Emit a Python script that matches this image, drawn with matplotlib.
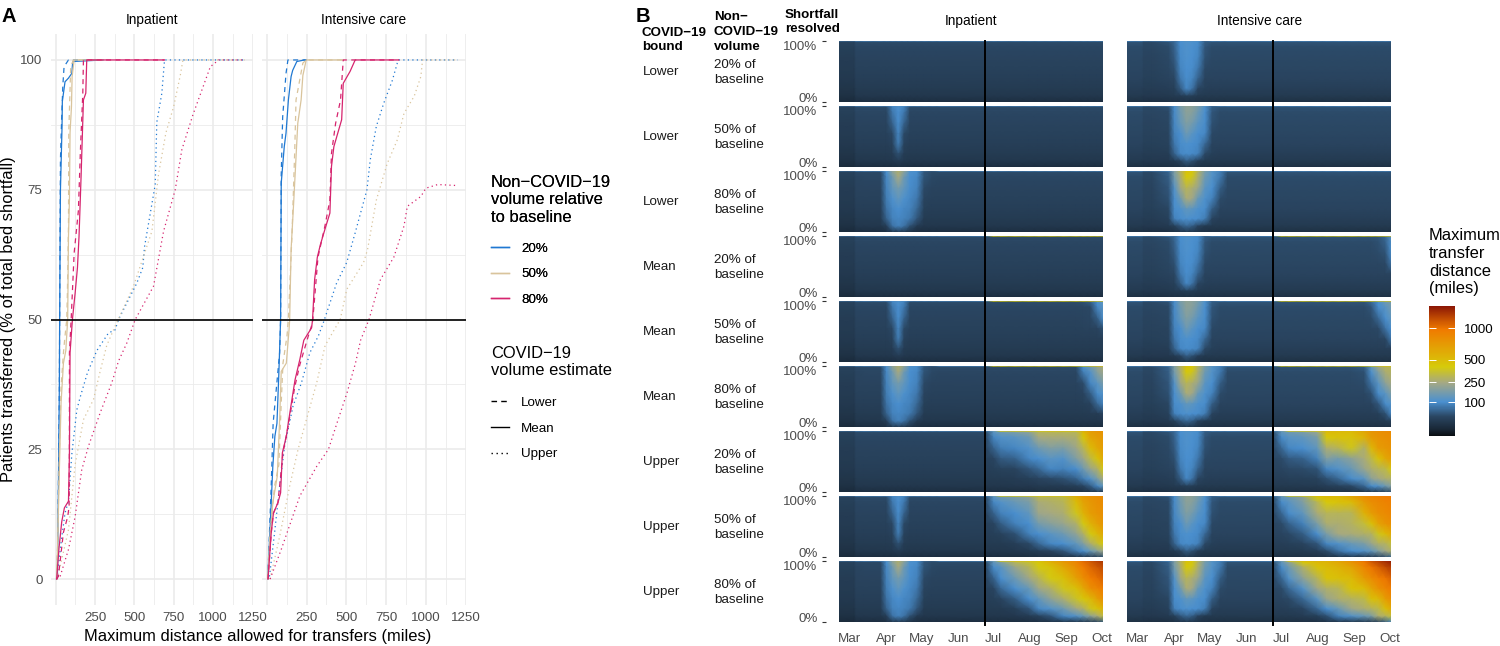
import matplotlib
matplotlib.use("Agg")
import matplotlib.pyplot as plt
import numpy as np
from matplotlib.colors import LinearSegmentedColormap, PowerNorm
from matplotlib.lines import Line2D

plt.rcParams['font.family'] = ['Liberation Sans', 'DejaVu Sans']

W, H = 1500, 646

# panel A, miles against percent transferred
inp_blue_lower_x = [5, 10, 17, 23, 25, 30, 36, 45, 53, 81, 300]
inp_blue_lower_y = [0, 1, 18, 37, 50, 80.8, 87, 95, 98.7, 100, 100]
inp_blue_mean_x = [5, 11, 17, 23, 25, 30, 40, 42, 59, 81, 102, 108, 300]
inp_blue_mean_y = [0, 1, 18, 37, 50, 75, 87, 92, 95.8, 96.5, 97.4, 99.7, 100]
inp_blue_upper_x = [5, 11, 38, 59, 81, 102, 134, 155, 201, 261, 335, 377, 399, 515, 553, 564, 632, 642, 674, 691, 1200]
inp_blue_upper_y = [0, 1, 8, 12.7, 15, 24, 32.6, 35, 39.7, 44, 47.4, 48, 50, 57, 60, 64, 76, 88, 93.6, 100, 100]
inp_tan_lower_x = [5, 11, 23, 34, 49, 59, 70, 74, 81, 83, 95, 112, 300]
inp_tan_lower_y = [0, 5, 24, 37, 43.6, 46.8, 50, 55, 68, 86, 98.7, 100, 100]
inp_tan_mean_x = [5, 11, 23, 34, 49, 64, 70, 76, 81, 87, 91, 100, 104, 117, 300]
inp_tan_mean_y = [0, 5, 21, 34, 41.6, 44, 47, 50, 66, 73, 86, 91, 96.8, 100, 100]
inp_tan_upper_x = [5, 28, 81, 123, 176, 240, 282, 324, 377, 494, 611, 653, 700, 749, 791, 808, 1200]
inp_tan_upper_y = [0, 2.4, 9.5, 22, 30.7, 34.6, 40, 45, 48.7, 56.4, 67, 78, 86, 91, 97, 100, 100]
inp_pink_lower_x = [5, 17, 49, 76, 85, 87, 87, 98, 117, 144, 157, 172, 176, 690]
inp_pink_lower_y = [0, 0.5, 9, 12, 14, 27.5, 43.6, 50, 62.8, 71, 82.7, 93.6, 100, 100]
inp_pink_mean_x = [6, 21, 38, 55, 81, 87, 91, 106, 123, 138, 148, 161, 176, 191, 197, 690]
inp_pink_mean_y = [0, 6, 11, 13.7, 15, 24, 43.6, 50, 55, 60, 66, 77.5, 92.3, 93.6, 100, 100]
inp_pink_upper_x = [5, 28, 81, 123, 165, 208, 282, 356, 399, 452, 505, 621, 685, 759, 801, 871, 982, 1035, 1200]
inp_pink_upper_y = [0, 0.5, 5.7, 12, 21, 25.6, 32, 37.8, 42, 45.5, 50, 56.4, 67, 75, 82.7, 89.4, 98.7, 100, 100]

icu_blue_lower_x = [6, 28, 40, 81, 87, 91, 100, 110, 121, 133, 250]
icu_blue_lower_y = [0, 18, 30, 43.6, 50, 78, 89, 93, 97.4, 100, 100]
icu_blue_mean_x = [6, 28, 38, 51, 64, 76, 87, 91, 110, 121, 136, 153, 163, 189, 237, 250]
icu_blue_mean_y = [0, 14.7, 21.7, 27.5, 30, 39.7, 50, 76.3, 83.3, 85.9, 92.3, 96.8, 98, 99.7, 100, 100]
icu_blue_upper_x = [17, 49, 81, 112, 165, 218, 271, 324, 356, 439, 503, 556, 630, 651, 689, 736, 789, 821, 831, 1200]
icu_blue_upper_y = [0.5, 8.9, 17.9, 25.6, 33.3, 37.8, 43.6, 46.8, 49.4, 57, 61, 66.7, 75, 80.8, 87.2, 91.7, 96, 99.4, 100, 100]
icu_tan_lower_x = [6, 21, 49, 76, 91, 102, 127, 136, 159, 176, 184, 227, 248, 480]
icu_tan_lower_y = [0, 9, 17.9, 22, 34, 41.6, 46.8, 50, 66.7, 82.7, 92.3, 99.4, 100, 100]
icu_tan_mean_x = [6, 21, 38, 66, 81, 91, 123, 140, 144, 153, 170, 195, 216, 227, 248, 480]
icu_tan_mean_y = [0, 8, 14.7, 19.8, 30.7, 40, 41.6, 48, 50, 63.5, 73, 87.8, 92.3, 97, 100, 100]
icu_tan_upper_x = [21, 81, 144, 197, 261, 314, 367, 462, 503, 609, 634, 689, 757, 821, 863, 927, 969, 980, 1200]
icu_tan_upper_y = [0, 8.2, 17.9, 25, 32, 37.8, 45, 50, 55.8, 61, 63.5, 73, 80, 84.6, 89.7, 93, 96.8, 100, 100]
icu_pink_lower_x = [8, 28, 42, 70, 102, 134, 176, 208, 261, 288, 307, 322, 365, 397, 407, 433, 464, 481, 830]
icu_pink_lower_y = [0, 8.9, 12.7, 14.7, 24.3, 29.4, 37, 41.3, 46.8, 49.4, 56.4, 62, 67.9, 73, 82, 87.8, 92.3, 100, 100]
icu_pink_mean_x = [8, 28, 42, 70, 87, 98, 123, 140, 165, 178, 208, 233, 282, 288, 301, 318, 337, 365, 397, 407, 422, 471, 481, 524, 556, 830]
icu_pink_mean_y = [0, 8.9, 12.7, 14.7, 16.6, 24.3, 27.5, 31, 35.9, 38.4, 42.3, 46, 48.4, 50, 57.7, 62, 64.4, 67.3, 70.5, 79.5, 83.3, 88.5, 95.5, 97.8, 100, 100]
icu_pink_upper_x = [21, 91, 208, 314, 388, 441, 505, 558, 590, 643, 715, 799, 863, 884, 969, 1001, 1075, 1202]
icu_pink_upper_y = [0, 5.7, 16, 21.7, 25, 30, 35.9, 41.6, 46, 50, 57.7, 62, 68, 71.8, 73.7, 75.3, 76, 75.8]

# panel B, maximum distance in miles on a grid of day since Mar 1 and percent resolved
resolved = [100, 98, 90, 72, 55, 38, 22, 10, 0]
spring_days = [-9.3, 3.5, 5, 12, 26, 31, 36, 41, 46, 51, 57, 63, 70, 76, 115]
summer_days = [122, 128, 140, 152, 160, 170, 181, 192, 198, 204, 210, 215]

inp_left = [60, 28, 25, 22, 20, 17, 14, 11, 6]
inp_base = [80, 38, 33, 30, 27, 24, 20, 16, 8]
icu_base = [85, 42, 38, 36, 33, 30, 24, 19, 10]
icu_stripe = [70, 36, 33, 31, 28, 26, 21, 17, 9]

inp_spring_thin = [
    [60, 60, 80, 80, 80, 80, 95, 110, 95, 80, 80, 80, 80, 80, 80],
    [28, 28, 38, 38, 38, 38, 85, 105, 85, 38, 38, 38, 38, 38, 38],
    [25, 25, 33, 33, 33, 33, 75, 100, 75, 33, 33, 33, 33, 33, 33],
    [22, 22, 30, 30, 30, 30, 55, 95, 55, 30, 30, 30, 30, 30, 30],
    [20, 20, 27, 27, 27, 27, 35, 88, 35, 27, 27, 27, 27, 27, 27],
    [17, 17, 24, 24, 24, 24, 28, 80, 28, 24, 24, 24, 24, 24, 24],
    [14, 14, 20, 20, 20, 20, 22, 40, 22, 20, 20, 20, 20, 20, 20],
    [11, 11, 16, 16, 16, 16, 18, 22, 18, 16, 16, 16, 16, 16, 16],
    [6, 6, 8, 8, 8, 8, 8, 9, 8, 8, 8, 8, 8, 8, 8],
]
inp_spring_wide = [
    [60, 60, 80, 80, 80, 110, 200, 280, 200, 110, 100, 60, 50, 80, 80],
    [28, 28, 36, 36, 36, 100, 190, 270, 190, 105, 95, 45, 38, 38, 38],
    [25, 25, 32, 33, 34, 90, 150, 250, 150, 100, 90, 42, 36, 33, 33],
    [22, 22, 30, 30, 30, 85, 130, 160, 130, 95, 85, 36, 30, 30, 30],
    [20, 20, 27, 27, 27, 80, 105, 130, 105, 90, 75, 30, 27, 27, 27],
    [17, 17, 24, 24, 24, 70, 90, 100, 90, 85, 60, 25, 24, 24, 24],
    [14, 14, 20, 20, 20, 55, 85, 90, 85, 75, 45, 20, 20, 20, 20],
    [11, 11, 16, 16, 16, 24, 70, 85, 70, 40, 20, 16, 16, 16, 16],
    [6, 6, 8, 8, 8, 10, 14, 16, 14, 10, 8, 8, 8, 8, 8],
]
icu_spring_thin = [
    [85, 85, 70, 70, 85, 70, 105, 115, 110, 105, 60, 85, 85, 85, 85],
    [42, 42, 36, 36, 42, 60, 100, 110, 105, 95, 50, 42, 42, 42, 42],
    [38, 38, 33, 33, 38, 55, 95, 108, 102, 92, 45, 38, 38, 38, 38],
    [36, 36, 31, 31, 36, 48, 92, 105, 100, 88, 40, 36, 36, 36, 36],
    [33, 33, 28, 28, 33, 40, 88, 100, 95, 75, 36, 33, 33, 33, 33],
    [30, 30, 26, 26, 30, 34, 75, 95, 88, 55, 31, 30, 30, 30, 30],
    [24, 24, 21, 21, 24, 26, 48, 90, 70, 32, 25, 24, 24, 24, 24],
    [19, 19, 17, 17, 19, 20, 22, 26, 24, 20, 19, 19, 19, 19, 19],
    [10, 10, 9, 9, 10, 10, 11, 11, 11, 10, 10, 10, 10, 10, 10],
]
icu_spring_mid = [
    [85, 85, 70, 70, 70, 100, 170, 210, 200, 170, 110, 60, 85, 85, 85],
    [42, 42, 36, 36, 40, 95, 165, 205, 195, 165, 105, 50, 42, 42, 42],
    [38, 38, 33, 33, 36, 92, 150, 200, 190, 150, 100, 45, 38, 38, 38],
    [36, 36, 31, 31, 34, 90, 135, 180, 160, 120, 95, 40, 36, 36, 36],
    [33, 33, 28, 28, 31, 85, 100, 150, 120, 100, 90, 36, 33, 33, 33],
    [30, 30, 26, 26, 28, 75, 95, 105, 100, 92, 60, 31, 30, 30, 30],
    [24, 24, 21, 21, 23, 55, 90, 95, 92, 85, 35, 25, 24, 24, 24],
    [19, 19, 17, 17, 18, 20, 30, 50, 40, 24, 19, 19, 19, 19, 19],
    [10, 10, 9, 9, 10, 10, 12, 13, 12, 11, 10, 10, 10, 10, 10],
]
icu_spring_wide = [
    [85, 85, 70, 70, 85, 180, 300, 470, 440, 300, 170, 120, 90, 85, 85],
    [42, 42, 36, 36, 55, 175, 280, 460, 430, 280, 165, 115, 80, 42, 42],
    [38, 38, 33, 33, 50, 160, 260, 420, 380, 270, 150, 110, 75, 38, 38],
    [36, 36, 31, 31, 45, 110, 230, 300, 270, 220, 120, 100, 50, 36, 36],
    [33, 33, 28, 28, 40, 100, 150, 260, 240, 140, 105, 85, 38, 33, 33],
    [30, 30, 26, 26, 33, 95, 105, 130, 125, 105, 95, 50, 30, 30, 30],
    [24, 24, 21, 21, 27, 85, 95, 105, 100, 95, 80, 30, 24, 24, 24],
    [19, 19, 17, 17, 20, 25, 45, 60, 50, 30, 20, 19, 19, 19, 19],
    [10, 10, 9, 9, 10, 11, 13, 14, 13, 12, 10, 10, 10, 10, 10],
]

inp_corner_m50 = [
    [430, 450, 470, 470],
    [40, 50, 100, 130],
    [34, 36, 90, 120],
    [32, 33, 50, 105],
    [28, 28, 30, 40],
]
inp_corner_m80 = [
    [430, 470, 480, 480],
    [100, 150, 210, 260],
    [80, 110, 190, 240],
    [38, 90, 120, 170],
    [30, 50, 95, 110],
    [25, 28, 60, 85],
    [20, 21, 22, 30],
]
icu_corner_m20 = [
    [430, 440, 450, 450],
    [42, 45, 60, 120],
    [38, 40, 55, 105],
    [36, 37, 42, 95],
    [33, 33, 36, 70],
]
icu_corner_m50 = [
    [430, 440, 450, 450],
    [60, 100, 150, 170],
    [45, 95, 120, 160],
    [38, 60, 100, 130],
    [34, 36, 70, 100],
    [30, 30, 33, 75],
]
icu_corner_m80 = [
    [430, 430, 450, 470, 470],
    [50, 130, 230, 290, 300],
    [40, 105, 180, 270, 290],
    [38, 70, 120, 200, 250],
    [33, 40, 95, 120, 180],
    [30, 30, 45, 95, 110],
    [24, 24, 25, 40, 90],
    [19, 19, 19, 20, 26],
]

inp_summer_u20 = [
    [140, 430, 430, 430, 430, 450, 450, 450, 550, 700, 760, 780],
    [120, 150, 170, 200, 290, 300, 300, 300, 520, 680, 740, 760],
    [90, 110, 120, 150, 250, 260, 260, 280, 440, 650, 700, 740],
    [55, 80, 90, 110, 150, 180, 170, 230, 300, 500, 620, 700],
    [32, 48, 55, 90, 100, 120, 110, 180, 230, 320, 450, 620],
    [25, 28, 30, 45, 60, 90, 85, 100, 150, 220, 280, 420],
    [20, 20, 22, 25, 30, 35, 40, 55, 80, 110, 170, 260],
    [16, 16, 17, 18, 20, 20, 22, 25, 32, 50, 90, 130],
    [8, 8, 8, 8, 9, 10, 10, 10, 11, 12, 15, 20],
]
inp_summer_u50 = [
    [140, 430, 430, 430, 430, 450, 450, 600, 720, 790, 820, 850],
    [120, 150, 170, 200, 300, 300, 320, 560, 700, 770, 810, 840],
    [90, 110, 140, 170, 260, 280, 300, 500, 660, 740, 800, 830],
    [55, 85, 100, 130, 230, 250, 270, 380, 560, 700, 760, 800],
    [32, 50, 85, 100, 160, 190, 220, 280, 400, 560, 680, 760],
    [25, 28, 40, 85, 100, 120, 150, 210, 280, 400, 520, 620],
    [20, 20, 24, 35, 60, 90, 100, 130, 180, 270, 340, 420],
    [16, 16, 17, 20, 24, 30, 45, 80, 100, 140, 190, 240],
    [8, 8, 8, 9, 10, 10, 11, 12, 14, 18, 25, 40],
]
inp_summer_u80 = [
    [150, 430, 470, 470, 470, 600, 750, 900, 1050, 1150, 1250, 1300],
    [130, 180, 300, 350, 430, 550, 720, 880, 1020, 1100, 1200, 1250],
    [95, 120, 220, 300, 400, 450, 620, 830, 950, 1050, 1120, 1180],
    [55, 100, 150, 240, 300, 400, 470, 680, 820, 950, 1020, 1080],
    [32, 60, 100, 140, 230, 280, 380, 470, 620, 800, 880, 950],
    [25, 30, 50, 100, 130, 200, 270, 360, 430, 520, 680, 800],
    [20, 20, 25, 45, 90, 110, 150, 240, 280, 380, 450, 560],
    [16, 16, 17, 22, 28, 45, 90, 110, 140, 200, 260, 330],
    [8, 8, 8, 9, 10, 11, 12, 14, 16, 20, 30, 50],
]
icu_summer_u20 = [
    [150, 430, 430, 430, 520, 520, 520, 640, 760, 800, 830, 850],
    [130, 150, 170, 220, 500, 500, 500, 620, 740, 790, 820, 840],
    [95, 120, 130, 170, 430, 460, 460, 560, 720, 770, 800, 820],
    [60, 90, 100, 130, 270, 300, 380, 280, 520, 700, 740, 780],
    [38, 48, 55, 85, 180, 160, 200, 260, 320, 460, 620, 700],
    [32, 35, 38, 42, 90, 110, 140, 220, 270, 300, 320, 440],
    [24, 25, 26, 28, 40, 60, 95, 120, 200, 240, 270, 280],
    [19, 19, 20, 20, 24, 28, 35, 60, 95, 110, 150, 190],
    [10, 10, 10, 10, 11, 11, 11, 12, 14, 18, 25, 40],
]
icu_summer_u50 = [
    [150, 430, 430, 500, 520, 520, 640, 820, 880, 920, 950, 960],
    [130, 150, 200, 420, 500, 500, 620, 800, 860, 900, 940, 950],
    [95, 120, 180, 300, 420, 460, 500, 720, 820, 860, 900, 920],
    [60, 95, 130, 260, 300, 300, 300, 560, 700, 800, 840, 880],
    [38, 55, 85, 170, 270, 270, 290, 340, 470, 660, 760, 820],
    [32, 35, 50, 100, 170, 250, 260, 280, 290, 380, 500, 620],
    [24, 25, 30, 45, 90, 110, 140, 170, 220, 280, 290, 340],
    [19, 19, 20, 24, 38, 70, 100, 110, 130, 180, 240, 280],
    [10, 10, 10, 11, 11, 12, 13, 14, 18, 25, 40, 60],
]
icu_summer_u80 = [
    [150, 450, 520, 560, 560, 650, 800, 1020, 1150, 1250, 1350, 1420],
    [130, 200, 430, 520, 540, 620, 760, 960, 1100, 1200, 1300, 1380],
    [95, 150, 280, 450, 500, 550, 650, 880, 1000, 1080, 1180, 1260],
    [60, 110, 200, 300, 450, 470, 510, 720, 830, 930, 1000, 1080],
    [38, 60, 110, 230, 280, 300, 450, 500, 640, 780, 880, 960],
    [32, 35, 60, 120, 220, 270, 290, 320, 470, 520, 700, 820],
    [24, 25, 32, 60, 100, 140, 230, 270, 290, 320, 480, 620],
    [19, 19, 21, 26, 40, 85, 110, 140, 170, 270, 290, 340],
    [10, 10, 10, 11, 12, 13, 14, 16, 20, 30, 50, 90],
]

bounds = ["Lower", "Lower", "Lower", "Mean", "Mean", "Mean", "Upper", "Upper", "Upper"]
volumes = ["20%", "50%", "80%", "20%", "50%", "80%", "20%", "50%", "80%"]
months = ["Mar", "Apr", "May", "Jun", "Jul", "Aug", "Sep", "Oct"]
month_days = [0, 31, 61, 92, 122, 153, 184, 214]
split_day = 115

legend_colors = ["#1f78d2", "#d9c49c", "#d6246e"]


def flat_spring(left, base):
    return np.column_stack([left, left] + [base] * 13).astype(float)


def flat_summer(base, top=None, corner=None):
    grid = np.column_stack([base] * len(summer_days)).astype(float)
    if top is not None:
        grid[0, :] = top
    if corner is not None:
        corner = np.array(corner, dtype=float)
        grid[:corner.shape[0], -corner.shape[1]:] = corner
    return grid


def px_axes(fig, left, top, right, bottom):
    return fig.add_axes([left / W, 1 - bottom / H, (right - left) / W, (bottom - top) / H])


def draw_lines(ax, blue, tan, pink):
    styles = [(0, (4, 3.5)), "-", (0, (1, 2.6))]
    for group, color in zip([blue, tan, pink], legend_colors):
        for (x, y), ls in zip(group, styles):
            ax.plot(x, y, color=color, lw=0.9, ls=ls)


def style_a(ax, title):
    ax.set_xlim(-30, 1253)
    ax.set_ylim(-5, 105)
    ax.set_xticks([0, 250, 500, 750, 1000, 1250])
    ax.set_xticklabels(["", "250", "500", "750", "1000", "1250"])
    ax.set_xticks([125, 375, 625, 875, 1125], minor=True)
    ax.set_yticks([0, 25, 50, 75, 100])
    ax.set_yticks([12.5, 37.5, 62.5, 87.5], minor=True)
    ax.grid(which="major", color="#ebebeb", lw=1.2)
    ax.grid(which="minor", color="#ebebeb", lw=0.6)
    ax.set_axisbelow(True)
    ax.tick_params(which="both", length=0, labelsize=9.6, labelcolor="#4d4d4d")
    ax.tick_params(axis="x", which="major", pad=5)
    ax.tick_params(axis="y", which="major", pad=6)
    for side in ax.spines.values():
        side.set_visible(False)
    ax.axhline(50, color="black", lw=1.2)
    ax.set_title(title, fontsize=9.8, pad=7)


fig = plt.figure(figsize=(W / 100, H / 100), dpi=100)

# panel A
ax_inp = px_axes(fig, 51, 34, 253, 605)
ax_icu = px_axes(fig, 262, 34, 466, 605)
draw_lines(ax_inp,
           [(inp_blue_lower_x, inp_blue_lower_y), (inp_blue_mean_x, inp_blue_mean_y), (inp_blue_upper_x, inp_blue_upper_y)],
           [(inp_tan_lower_x, inp_tan_lower_y), (inp_tan_mean_x, inp_tan_mean_y), (inp_tan_upper_x, inp_tan_upper_y)],
           [(inp_pink_lower_x, inp_pink_lower_y), (inp_pink_mean_x, inp_pink_mean_y), (inp_pink_upper_x, inp_pink_upper_y)])
draw_lines(ax_icu,
           [(icu_blue_lower_x, icu_blue_lower_y), (icu_blue_mean_x, icu_blue_mean_y), (icu_blue_upper_x, icu_blue_upper_y)],
           [(icu_tan_lower_x, icu_tan_lower_y), (icu_tan_mean_x, icu_tan_mean_y), (icu_tan_upper_x, icu_tan_upper_y)],
           [(icu_pink_lower_x, icu_pink_lower_y), (icu_pink_mean_x, icu_pink_mean_y), (icu_pink_upper_x, icu_pink_upper_y)])
style_a(ax_inp, "Inpatient")
style_a(ax_icu, "Intensive care")
ax_icu.tick_params(axis="y", labelleft=False)
fig.text(258 / W, 1 - 637 / H, "Maximum distance allowed for transfers (miles)", fontsize=11.9, ha="center", va="center")
fig.text(9 / W, 1 - 319 / H, "Patients transferred (% of total bed shortfall)", fontsize=11.9, rotation=90, ha="center", va="center")
fig.text(1 / W, 1 - 16 / H, "A", fontsize=14.5, fontweight="bold", va="center")
fig.text(636 / W, 1 - 16 / H, "B", fontsize=14.5, fontweight="bold", va="center")

vol_handles = [Line2D([], [], color=c, lw=1) for c in legend_colors]
est_handles = [Line2D([], [], color="black", lw=1, ls=s) for s in [(0, (4, 3)), "-", (0, (1, 2.6))]]
leg1 = fig.legend(vol_handles, ["20%", "50%", "80%"], title="Non\u2212COVID\u221219\nvolume relative\nto baseline",
                  loc="upper left", bbox_to_anchor=(479 / W, 1 - 163 / H), frameon=False, fontsize=9.6,
                  title_fontsize=11.9, alignment="left", handlelength=1.35, handletextpad=0.9, labelspacing=1.0)
leg2 = fig.legend(est_handles, ["Lower", "Mean", "Upper"], title="COVID\u221219\nvolume estimate",
                  loc="upper left", bbox_to_anchor=(479 / W, 1 - 334 / H), frameon=False, fontsize=9.6,
                  title_fontsize=11.9, alignment="left", handlelength=1.35, handletextpad=0.9, labelspacing=1.0)
leg1._legend_box.sep += 3
leg2._legend_box.sep += 3.5
fig.add_artist(leg1)

# panel B
cmap = LinearSegmentedColormap.from_list("dist", [
    (0.0, "#0b0f14"), (0.05, "#192736"), (0.15, "#2a4662"), (0.26, "#4a90d0"), (0.41, "#a5a884"),
    (0.53, "#d6cb0a"), (0.82, "#f07a00"), (1.0, "#8a1505")])
norm = PowerNorm(0.5, vmin=0.7, vmax=1460)

inp_flat = flat_spring(inp_left, inp_base)
inp_springs = [inp_flat, np.array(inp_spring_thin, float), np.array(inp_spring_wide, float)] * 3
icu_springs = [np.array(icu_spring_thin, float), np.array(icu_spring_mid, float), np.array(icu_spring_wide, float)] * 3
inp_summers = [flat_summer(inp_base)] * 3 + [
    flat_summer(inp_base, top=430),
    flat_summer(inp_base, top=430, corner=inp_corner_m50),
    flat_summer(inp_base, top=430, corner=inp_corner_m80),
    np.array(inp_summer_u20, float), np.array(inp_summer_u50, float), np.array(inp_summer_u80, float)]
icu_summers = [flat_summer(icu_base)] * 3 + [
    flat_summer(icu_base, top=430, corner=icu_corner_m20),
    flat_summer(icu_base, top=430, corner=icu_corner_m50),
    flat_summer(icu_base, top=430, corner=icu_corner_m80),
    np.array(icu_summer_u20, float), np.array(icu_summer_u50, float), np.array(icu_summer_u80, float)]

days = np.array(spring_days + summer_days)
mesh = None
for col, (left, right, springs, summers, title) in enumerate([
        (839, 1103.3, inp_springs, inp_summers, "Inpatient"),
        (1127, 1391.3, icu_springs, icu_summers, "Intensive care")]):
    for row in range(9):
        top = 41.3 + 65 * row
        ax = px_axes(fig, left, top, right, top + 61)
        grid = np.hstack([springs[row], summers[row]])
        mesh = ax.pcolormesh(days, resolved, grid, cmap=cmap, norm=norm, shading="gouraud")
        ax.set_xlim(-9.3, 215)
        ax.set_ylim(0, 100)
        ax.axvline(split_day, ymin=-0.05 if row == 8 else -0.07, ymax=1.0 if row == 0 else 1.07,
                   color="black", lw=1.4, clip_on=False, zorder=5)
        for side in ax.spines.values():
            side.set_visible(False)
        ax.set_xticks(month_days if row == 8 else [])
        if row == 8:
            ax.set_xticklabels(months, fontsize=9.6, color="#4d4d4d")
        ax.tick_params(axis="x", length=0, pad=8)
        if col == 0:
            ax.spines["left"].set_position(("outward", 9.4))
            ax.set_yticks([0, 100])
            ax.set_yticklabels(["0%", "100%"], fontsize=9.6, color="#4d4d4d")
            ax.get_yticklabels()[0].set_va("baseline")
            ax.get_yticklabels()[1].set_va("top")
            ax.tick_params(axis="y", length=3, width=0.8, color="#333333", pad=3)
            fig.text(643 / W, 1 - (top + 31) / H, bounds[row], fontsize=9.6, color="#1a1a1a", va="center")
            fig.text(714 / W, 1 - (top + 31) / H, volumes[row] + " of\nbaseline", fontsize=9.6, color="#1a1a1a",
                     va="center", linespacing=1.3)
        else:
            ax.set_yticks([])
        if row == 0:
            fig.text((left + right) / 2 / W, 1 - 21 / H, title, fontsize=9.8, ha="center", va="center")

fig.text(642 / W, 1 - 40 / H, "COVID\u221219\nbound", fontsize=9.6, fontweight="bold", va="center", linespacing=1.3)
fig.text(714 / W, 1 - 32 / H, "Non\u2212\nCOVID\u221219\nvolume", fontsize=9.6, fontweight="bold", va="center", linespacing=1.3)
fig.text(785 / W, 1 - 22 / H, "Shortfall\nresolved", fontsize=9.6, fontweight="bold", va="center", linespacing=1.3)

cax = px_axes(fig, 1429.3, 305.7, 1455.3, 436)
cb = fig.colorbar(mesh, cax=cax)
cb.set_ticks([100, 250, 500, 1000])
cb.set_ticklabels(["100", "250", "500", "1000"])
cb.minorticks_off()
cb.outline.set_visible(False)
cax.tick_params(axis="y", which="major", direction="in", left=True, right=True, color="white", length=5, width=0.7,
                labelsize=9.6, pad=6)
fig.text(1429 / W, 1 - 262 / H, "Maximum\ntransfer\ndistance\n(miles)", fontsize=11.9, va="center", linespacing=1.25)

fig.savefig("out.png", dpi=100)
